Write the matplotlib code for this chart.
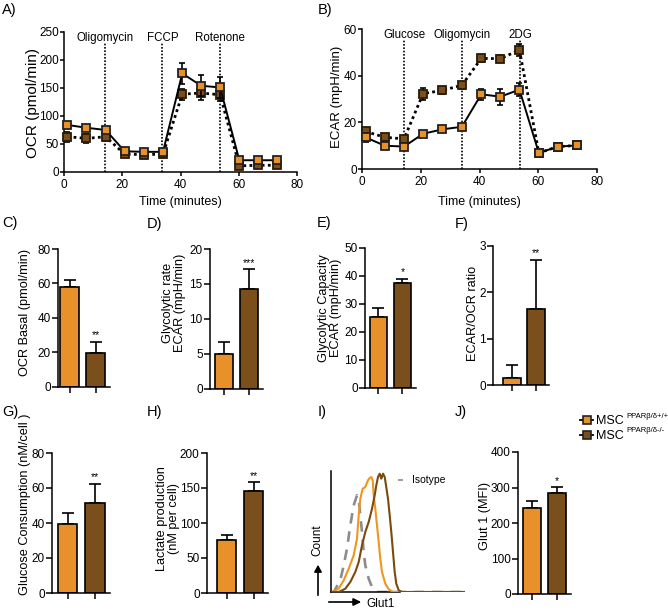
import matplotlib
matplotlib.use('Agg')
import matplotlib.pyplot as plt
from matplotlib.lines import Line2D

plt.rcParams['font.family'] = ['Liberation Sans', 'DejaVu Sans']

# ---------------- data ----------------
time_min = [1.2, 7.7, 14.3, 20.8, 27.4, 34.0, 40.6, 47.1, 53.6, 60.2, 66.7, 73.2]

ocr_wt = [84, 79, 75, 37, 36, 36, 176, 154, 151, 21, 21, 21]
ocr_wt_err = [6, 5, 5, 3, 3, 3, 18, 19, 18, 3, 3, 3]
ocr_ko = [63, 60, 63, 32, 31, 32, 139, 141, 138, 11, 12, 12]
ocr_ko_err = [9, 8, 8, 3, 3, 3, 10, 12, 12, 3, 3, 3]
ocr_injections = [14.2, 33.8, 53.5]
ocr_injection_labels = ['Oligomycin', 'FCCP', 'Rotenone']

ecar_wt = [13.6, 10.0, 9.6, 15.1, 17.0, 18.1, 32.0, 31.0, 34.0, 6.9, 9.6, 10.1]
ecar_wt_err = [2.0, 1.5, 1.5, 1.0, 1.0, 1.0, 2.5, 3.5, 2.8, 1.0, 1.0, 1.0]
ecar_ko = [16.1, 13.6, 12.9, 32.3, 33.7, 35.9, 47.4, 47.3, 51.0, 6.9, 9.6, 10.1]
ecar_ko_err = [1.5, 1.0, 1.0, 2.6, 1.5, 1.5, 1.5, 1.5, 2.6, 1.0, 1.0, 1.0]
ecar_injections = [14.4, 34.0, 53.8]
ecar_injection_labels = ['Glucose', 'Oligomycin', '2DG']

groups = ['MSC PPARβ/δ+/+', 'MSC PPARβ/δ-/-']

ocr_basal = [57.9, 19.6];        ocr_basal_err = [4.2, 6.6]
glyco_rate = [4.9, 14.3];        glyco_rate_err = [1.8, 2.8]
glyco_cap = [25.1, 37.5];        glyco_cap_err = [3.5, 1.5]
ecar_ocr_ratio = [0.16, 1.64];   ecar_ocr_ratio_err = [0.27, 1.06]
glucose_cons = [39.4, 51.6];     glucose_cons_err = [6.3, 10.7]
lactate_prod = [76.2, 146.0];    lactate_prod_err = [6.2, 12.6]
glut1_mfi = [242.5, 284.0];      glut1_mfi_err = [19.5, 17.0]

# flow cytometry histogram traces (arbitrary units)
iso_x = [0, 2.7, 9.3, 12.7, 16.0, 19.3, 22.7, 26.0, 27.7, 29.3, 31.0, 32.7, 34.3, 37.7, 41.0, 46.0, 134]
iso_y = [0, 0, 11.7, 26.7, 43.3, 66.7, 86.7, 96.7, 93.3, 76.7, 60.0, 40.0, 26.7, 13.3, 5.0, 0, 0]
wt_x = [0, 1.0, 7.7, 12.7, 17.7, 22.7, 26.0, 27.7, 29.3, 31.7, 34.3, 37.0, 38.7, 40.3, 41.7, 42.7,
        44.3, 46.0, 47.7, 49.3, 51.0, 54.3, 57.7, 61.0, 64.3, 134]
wt_y = [0, 0, 3.3, 11.7, 23.3, 36.7, 53.3, 76.7, 93.3, 103.3, 105.0, 111.7, 114.0, 115.0, 111.7, 96.7,
        83.3, 66.7, 50.0, 33.3, 20.0, 8.3, 2.7, 0.7, 0, 0]
ko_x = [0, 7.7, 14.3, 19.3, 24.3, 27.7, 31.0, 34.3, 37.7, 41.0, 43.7, 45.3, 47.0, 48.7, 50.3, 52.0,
        53.7, 55.0, 57.0, 58.7, 60.3, 62.0, 63.7, 65.3, 67.7, 71.0, 134]
ko_y = [0, 0, 3.3, 10.0, 20.0, 30.0, 46.7, 60.0, 70.0, 83.3, 96.7, 106.7, 115.0, 118.3, 113.3, 118.3,
        115.0, 106.7, 93.3, 76.7, 60.0, 40.0, 20.0, 8.3, 1.7, 0, 0]

# ---------------- styling ----------------
W, H = 668, 612
fig = plt.figure(figsize=(W / 100, H / 100), dpi=100)
ORANGE = '#E8912B'
BROWN = '#7A4F1B'
HIST_OR = '#F0961E'
HIST_BR = '#7A4A10'


def axes_px(l, t, r, b):
    return fig.add_axes([l / W, 1 - b / H, (r - l) / W, (b - t) / H])


def ftext(px, py, s, **kw):
    return fig.text(px / W, 1 - py / H, s, **kw)


def style(ax, length=3.0, lw=1.1):
    for s in ['top', 'right']:
        ax.spines[s].set_visible(False)
    for s in ['left', 'bottom']:
        ax.spines[s].set_linewidth(lw)
    ax.tick_params(direction='out', length=length, width=lw, labelsize=8.5)
    ax.tick_params(axis='y', pad=0.8)
    ax.tick_params(axis='x', pad=2.0)


def timecourse(ax, wt, wte, ko, koe, inj, inj_labels, ymax, ystep, label_y, line_top):
    ax.errorbar(time_min, ko, yerr=koe, fmt='none', ecolor='black', elinewidth=1.2,
                capsize=2.5, capthick=1.2, zorder=3)
    ax.plot(time_min, ko, color='black', ls=(0, (1, 1.2)), lw=2.0, marker='s', ms=6,
            mfc=BROWN, mec='#2a1a08', mew=1.3, zorder=3.5, clip_on=False)
    ax.errorbar(time_min, wt, yerr=wte, fmt='none', ecolor='black', elinewidth=1.2,
                capsize=2.5, capthick=1.2, zorder=4)
    ax.plot(time_min, wt, color='black', ls='-', lw=1.4, marker='s', ms=6,
            mfc=ORANGE, mec='#222222', mew=1.3, zorder=4.5, clip_on=False)
    ax.vlines(inj, 0, line_top, colors='black', linestyles=(0, (1, 1)), lw=1.2, zorder=2)
    for x, lab in zip(inj, inj_labels):
        ax.text(x, label_y, lab, ha='center', va='center', fontsize=8.3)
    ax.set_xlim(0, 80)
    ax.set_ylim(0, ymax)
    ax.set_xticks(range(0, 81, 20))
    ax.set_yticks([ystep * i for i in range(int(round(ymax / ystep)) + 1)])
    style(ax)


# A) OCR
axA = axes_px(64, 32, 297, 172)
timecourse(axA, ocr_wt, ocr_wt_err, ocr_ko, ocr_ko_err, ocr_injections, ocr_injection_labels,
           250, 50, 239, 230)
ftext(33, 103, 'OCR (pmol/min)', rotation=90, ha='center', va='center', fontsize=11)
ftext(180.5, 202, 'Time (minutes)', ha='center', va='center', fontsize=9)

# B) ECAR
axB = axes_px(362, 29, 597, 169)
timecourse(axB, ecar_wt, ecar_wt_err, ecar_ko, ecar_ko_err, ecar_injections, ecar_injection_labels,
           60, 20, 57.4, 55.3)
ftext(337, 97, 'ECAR (mpH/min)', rotation=90, ha='center', va='center', fontsize=9.5)
ftext(479.5, 202, 'Time (minutes)', ha='center', va='center', fontsize=9)


def barpanel(left, bar1, bar2, top, bottom, vals, errs, ymax, ystep, star, ylabel, lab_xy):
    s = bar2 - bar1
    lo = -(bar1 - left) / s
    hi = 1.55
    ax = axes_px(left, top, left + (hi - lo) * s, bottom)
    ax.bar([0, 1], vals, width=0.72, color=[ORANGE, BROWN], edgecolor='black', linewidth=1.2,
           zorder=2)
    ax.errorbar([0, 1], vals, yerr=[[0, 0], errs], fmt='none', ecolor='black', elinewidth=1.2,
                capsize=4, capthick=1.2, zorder=1)
    ax.text(1, vals[1] + errs[1] + ymax * 0.01, star, ha='center', va='bottom', fontsize=7.5)
    ax.set_xlim(lo, hi)
    ax.set_ylim(0, ymax)
    ax.set_xticks([0, 1])
    ax.set_xticklabels(['', ''])
    ax.set_yticks([ystep * i for i in range(int(round(ymax / ystep)) + 1)])
    style(ax, length=4.5)
    ftext(lab_xy[0], lab_xy[1], ylabel, rotation=90, ha='center', va='center', fontsize=9.2,
          linespacing=0.95, multialignment='center')
    return ax


barpanel(58, 69.5, 95.5, 249, 386.7, ocr_basal, ocr_basal_err, 80, 20, '**',
         'OCR Basal (pmol/min)', (25, 312))
barpanel(210, 224, 249, 249, 388.7, glyco_rate, glyco_rate_err, 20, 5, '***',
         'Glycolytic rate\nECAR (mpH/min)', (174, 303))
barpanel(365, 378.5, 402.5, 247.7, 387.7, glyco_cap, glyco_cap_err, 50, 10, '*',
         'Glycolytic Capacity\nECAR (mpH/min)', (330, 308))
barpanel(493, 512, 536, 246, 385, ecar_ocr_ratio, ecar_ocr_ratio_err, 3, 1, '**',
         'ECAR/OCR ratio', (473, 313))
barpanel(52, 67.5, 95, 453, 593, glucose_cons, glucose_cons_err, 80, 20, '**',
         'Glucose Consumption (nM/cell )', (25, 504))
barpanel(207, 226.5, 253.5, 453, 593, lactate_prod, lactate_prod_err, 200, 50, '**',
         'Lactate production\n(nM per cell)', (168, 519))
barpanel(518, 532, 557, 452, 594, glut1_mfi, glut1_mfi_err, 400, 100, '*',
         'Glut 1 (MFI)', (485, 516))

# I) histogram
axI = axes_px(331, 471, 465, 592)
axI.plot(iso_x, iso_y, color='#8C8C8C', lw=1.9, ls=(0, (4, 3)), zorder=2)
axI.plot(wt_x, wt_y, color=HIST_OR, lw=1.5, zorder=3)
axI.plot(ko_x, ko_y, color=HIST_BR, lw=1.5, zorder=4)
axI.plot([67, 76], [112, 112], color='#8C8C8C', lw=1.2, ls=(0, (3, 2.5)))
axI.text(81, 112, 'Isotype', ha='left', va='center', fontsize=7.5)
axI.set_xlim(0, 134)
axI.set_ylim(0, 121)
axI.set_xticks([])
axI.set_yticks([])
for s in ['top', 'right']:
    axI.spines[s].set_visible(False)
axI.spines['left'].set_linewidth(1.1)
axI.spines['bottom'].set_linewidth(1.1)
axI.spines['bottom'].set_bounds(0, 69)

fig.add_artist(matplotlib.patches.FancyArrowPatch(
    (318 / W, 1 - 598 / H), (318 / W, 1 - 562 / H), transform=fig.transFigure,
    arrowstyle='-|>,head_length=4,head_width=2.2', lw=1.2, color='black'))
ftext(317, 540, 'Count', rotation=90, ha='center', va='center', fontsize=8.5)
fig.add_artist(matplotlib.patches.FancyArrowPatch(
    (326 / W, 1 - 602 / H), (364 / W, 1 - 602 / H), transform=fig.transFigure,
    arrowstyle='-|>,head_length=4.5,head_width=2.2', lw=1.2, color='black'))
ftext(366, 604, 'Glut1', ha='left', va='center', fontsize=8.5)

# legend
for i, (face, grp) in enumerate(zip([ORANGE, BROWN], groups)):
    py = 420 + 15 * i
    fig.add_artist(Line2D([580 / W, 593 / W], [1 - py / H, 1 - py / H], color='black', lw=1.3,
                          transform=fig.transFigure))
    fig.add_artist(Line2D([587 / W], [1 - py / H], marker='s', ms=6, mfc=face, mec='#222222',
                          mew=1.2, transform=fig.transFigure))
    name, sup = grp.split(' ')
    ftext(596, py + 1, name, ha='left', va='center', fontsize=9)
    ftext(626, py - 4, sup, ha='left', va='center', fontsize=5.5)

# panel letters
for lab, px, py in [('A)', 2, 10), ('B)', 318, 10), ('C)', 2, 223), ('D)', 147, 224),
                    ('E)', 317, 223), ('F)', 455, 224), ('G)', 2, 412), ('H)', 147, 412),
                    ('I)', 318, 412), ('J)', 455, 412)]:
    ftext(px, py, lab, ha='left', va='center', fontsize=10.5)

fig.savefig('out.png', dpi=100)
